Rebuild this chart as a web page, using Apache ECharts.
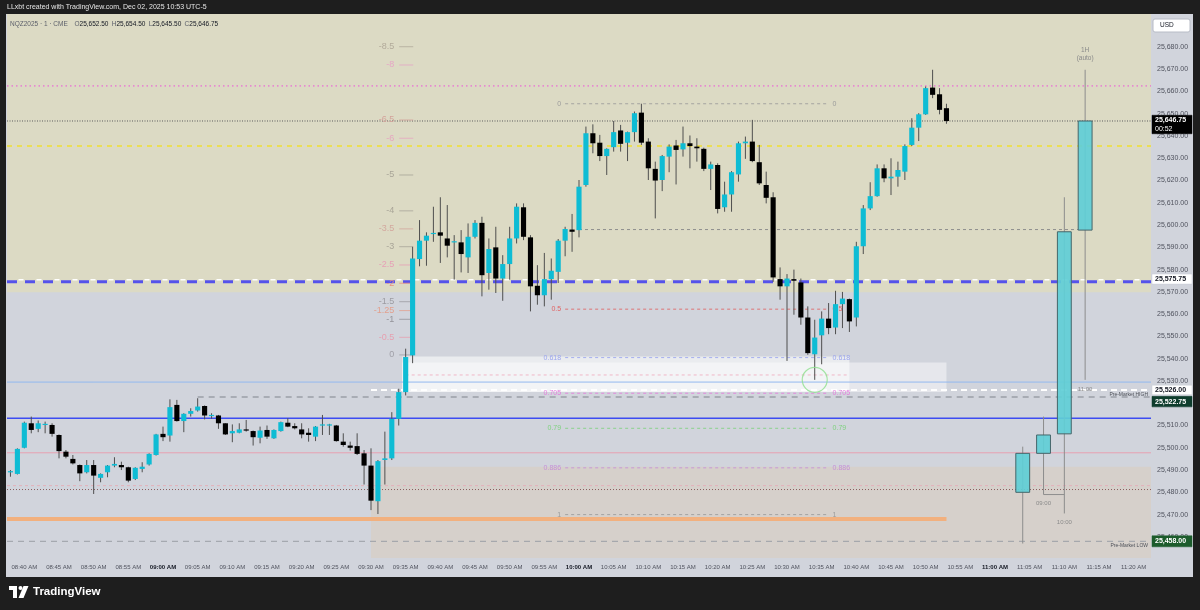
<!DOCTYPE html>
<html><head><meta charset="utf-8">
<script src="https://cdn.jsdelivr.net/npm/echarts@6/dist/echarts.min.js"></script>
<style>html,body{margin:0;padding:0;background:#1e1e1e;}#c{width:1200px;height:610px;}</style>
</head><body><div id="c"></div>
<script>
// ---------------- DATA ----------------
const FIRST_BAR = '08:38';
const LAST_SLOT = '11:22';
const TIME_TICKS = ['08:40 AM','08:45 AM','08:50 AM','08:55 AM','09:00 AM','09:05 AM','09:10 AM','09:15 AM','09:20 AM','09:25 AM','09:30 AM','09:35 AM','09:40 AM','09:45 AM','09:50 AM','09:55 AM','10:00 AM','10:05 AM','10:10 AM','10:15 AM','10:20 AM','10:25 AM','10:30 AM','10:35 AM','10:40 AM','10:45 AM','10:50 AM','10:55 AM','11:00 AM','11:05 AM','11:10 AM','11:15 AM','11:20 AM'];
const PRICE_TICKS = [25460,25470,25480,25490,25500,25510,25520,25530,25540,25550,25560,25570,25580,25590,25600,25610,25620,25630,25640,25650,25660,25670,25680];
const PRICE_MIN = 25450.5, PRICE_MAX = 25694.8;

// 1-minute bars from 08:38, rows are [open, high, low, close]
const OHLC_1M = [
[25489.0,25490.0,25487.0,25489.5],
[25488.25,25499.75,25488.0,25499.5],
[25500.0,25511.75,25499.75,25511.25],
[25511.0,25514.0,25506.5,25508.0],
[25508.5,25512.25,25507.0,25511.0],
[25510.5,25511.75,25506.5,25510.75],
[25510.25,25511.0,25505.0,25506.25],
[25505.75,25506.0,25495.25,25498.5],
[25498.25,25499.0,25495.25,25496.0],
[25495.0,25496.75,25492.5,25493.0],
[25492.25,25492.5,25485.0,25488.5],
[25489.0,25494.5,25488.5,25492.25],
[25492.25,25494.5,25479.25,25487.5],
[25486.5,25488.5,25484.5,25488.25],
[25489.0,25492.25,25486.75,25492.0],
[25492.0,25495.75,25491.25,25492.75],
[25492.25,25493.75,25490.0,25491.25],
[25491.25,25491.5,25484.5,25485.25],
[25486.0,25491.25,25485.5,25491.0],
[25490.5,25493.5,25489.0,25491.5],
[25492.5,25497.5,25492.0,25497.25],
[25496.75,25506.25,25496.5,25506.0],
[25506.25,25509.5,25503.0,25504.75],
[25505.5,25521.75,25502.75,25518.25],
[25519.25,25521.5,25511.75,25512.0],
[25512.0,25515.5,25507.0,25515.25],
[25515.25,25517.75,25514.0,25516.5],
[25516.75,25522.25,25516.25,25518.5],
[25518.75,25519.0,25512.75,25514.5],
[25514.5,25515.5,25513.0,25514.75],
[25514.5,25514.75,25508.5,25511.0],
[25511.0,25511.0,25505.75,25506.0],
[25506.5,25510.5,25502.5,25507.5],
[25506.75,25511.0,25506.5,25508.25],
[25508.25,25512.5,25507.25,25508.0],
[25507.5,25507.75,25501.0,25504.75],
[25504.5,25509.5,25502.0,25507.75],
[25508.0,25510.0,25504.0,25505.0],
[25504.25,25508.25,25504.0,25508.0],
[25507.5,25511.75,25507.25,25511.5],
[25511.25,25513.25,25509.25,25509.5],
[25509.75,25511.0,25508.25,25508.75],
[25508.25,25511.0,25504.25,25506.0],
[25506.75,25508.75,25502.75,25505.75],
[25505.0,25509.75,25503.0,25509.5],
[25510.25,25514.75,25505.75,25510.5],
[25510.0,25510.75,25505.75,25510.5],
[25510.0,25510.25,25502.75,25503.0],
[25502.75,25506.5,25500.5,25501.25],
[25501.0,25502.75,25498.75,25500.0],
[25500.75,25506.5,25496.75,25497.25],
[25497.5,25499.0,25483.5,25492.0],
[25492.0,25499.75,25472.0,25476.25],
[25476.0,25494.5,25470.25,25494.0],
[25494.5,25507.25,25483.5,25495.25],
[25495.25,25516.0,25494.5,25513.0],
[25513.0,25526.5,25510.0,25525.0],
[25525.0,25544.5,25523.5,25540.75],
[25541.5,25590.25,25538.0,25585.0],
[25584.75,25602.25,25581.5,25593.0],
[25593.0,25596.75,25581.75,25595.25],
[25596.0,25608.25,25592.5,25596.5],
[25596.75,25612.5,25583.0,25595.25],
[25594.0,25609.0,25585.5,25590.75],
[25592.25,25595.5,25575.5,25592.75],
[25592.25,25597.75,25578.75,25587.0],
[25585.5,25600.75,25578.5,25594.75],
[25594.75,25602.25,25594.0,25601.0],
[25601.0,25603.75,25568.0,25577.5],
[25578.5,25594.0,25571.0,25589.25],
[25590.0,25599.25,25569.5,25576.0],
[25576.0,25586.5,25566.0,25582.5],
[25582.5,25599.25,25575.5,25594.0],
[25594.0,25609.75,25591.75,25608.25],
[25608.0,25609.75,25593.25,25594.75],
[25594.5,25595.5,25561.25,25572.5],
[25572.75,25582.0,25564.25,25568.5],
[25568.5,25587.5,25563.5,25575.75],
[25575.75,25585.0,25566.5,25579.5],
[25579.0,25593.75,25574.0,25593.0],
[25593.0,25599.25,25586.0,25598.25],
[25598.0,25605.0,25588.0,25597.0],
[25597.75,25620.25,25594.5,25617.25],
[25618.0,25644.25,25617.25,25641.25],
[25641.25,25645.25,25632.25,25636.75],
[25637.0,25640.5,25628.75,25631.0],
[25631.0,25634.5,25622.5,25634.25],
[25635.0,25646.75,25633.0,25641.75],
[25642.5,25645.0,25633.0,25636.5],
[25637.0,25642.0,25628.75,25641.75],
[25641.75,25651.0,25637.5,25650.25],
[25650.5,25654.5,25636.0,25637.0],
[25637.5,25639.0,25620.25,25625.5],
[25625.25,25628.5,25603.0,25620.0],
[25620.25,25631.5,25615.25,25631.0],
[25630.75,25636.25,25623.75,25635.25],
[25635.75,25638.25,25618.25,25633.75],
[25634.0,25644.25,25630.75,25636.75],
[25636.75,25640.25,25625.5,25635.5],
[25635.25,25639.0,25628.5,25634.5],
[25634.25,25634.75,25624.25,25625.25],
[25625.25,25628.5,25615.75,25627.25],
[25627.0,25627.75,25605.25,25607.25],
[25608.0,25619.5,25606.0,25613.75],
[25613.75,25624.25,25606.0,25623.75],
[25622.75,25637.5,25619.5,25636.75],
[25636.75,25639.75,25629.75,25637.5],
[25637.5,25647.25,25628.25,25628.75],
[25628.25,25636.0,25618.0,25618.75],
[25618.0,25624.0,25609.75,25612.25],
[25612.5,25614.75,25574.5,25576.5],
[25575.75,25581.0,25566.5,25572.5],
[25572.5,25578.0,25539.0,25576.0],
[25575.75,25580.0,25559.75,25575.0],
[25574.25,25576.0,25555.25,25558.5],
[25558.5,25563.5,25541.75,25542.5],
[25542.0,25557.5,25530.5,25549.5],
[25550.5,25561.25,25537.5,25558.0],
[25558.0,25565.0,25551.0,25553.75],
[25554.0,25570.5,25551.0,25564.5],
[25564.5,25570.0,25553.75,25567.0],
[25566.75,25567.0,25552.0,25556.75],
[25558.5,25592.5,25554.5,25590.5],
[25590.5,25609.0,25587.0,25607.5],
[25607.5,25619.25,25606.75,25613.0],
[25613.0,25627.25,25612.75,25625.5],
[25625.5,25627.25,25619.25,25621.0],
[25621.0,25630.0,25613.5,25621.75],
[25621.75,25628.5,25617.25,25624.75],
[25624.0,25636.25,25620.25,25635.5],
[25636.0,25648.0,25635.5,25643.75],
[25643.75,25650.25,25637.75,25649.75],
[25649.75,25662.25,25649.5,25661.5],
[25661.75,25669.75,25657.0,25658.5],
[25658.75,25661.5,25649.75,25651.75],
[25652.5,25654.5,25645.5,25646.75]
];

// higher-timeframe (1H) overlay candles
const HTF_SLOTS = ['11:04','11:07','11:10','11:13'];
const HTF_OHLC = [
[25480.0,25500.5,25457.0,25497.5],
[25497.5,25514.0,25479.0,25505.75],
[25506.25,25612.5,25470.5,25597.0],
[25597.75,25669.75,25530.5,25646.75]
];
const HTF_LABELS = ['','09:00','10:00','11:00'];
const HTF_TITLE = ['1H','(auto)'];

// horizontal levels
const LEVEL_PRICES = [25662.5,25646.75,25635.5,25598.0,25574.6,25575.5,25532.7,25529.5,25526.0,25522.75,25513.25,25497.75,25483.0,25481.25,25468.0,25458.0,25479.0];
const LEVEL_FROM   = ['start','start','start','10:00','start','start','09:35','start','09:30','09:05','start','start','start','start','start','start','11:07'];
const LEVEL_TO     = ['end','end','end','11:12','end','end','10:39','end','end','end','end','end','end','end','10:53','end','11:10'];
const LEVEL_TEXT   = ['','','','','','','','','Pre-Market HIGH','','','','','','','Pre-Market LOW',''];

// zones [from, to, low, high]
const ZONE_FROM = ['start','09:30','09:34','09:34'];
const ZONE_TO   = ['end','end','10:39','10:53'];
const ZONE_LOW  = [25569.8,25450.5,25525.0,25525.0];
const ZONE_HIGH = [25694.8,25491.5,25541.0,25538.3];

// fib retracement
const FIB_FROM = '09:58', FIB_TO = '10:36';
const FIB_LABELS = ['0','0.5','0.618','0.705','0.79','0.886','1'];
const FIB_PRICES = [25654.5,25562.25,25540.5,25524.5,25508.75,25491.0,25470.0];

// std-dev projection labels
const STD_AT = '09:34';
const STD_LABELS = ['-8.5','-8','-6.5','-6','-5','-4','-3.5','-3','-2.5','-2','-1.5','-1.25','-1','-0.5','0'];
const STD_PRICES = [25680.1,25671.9,25647.2,25639.0,25622.5,25606.4,25598.3,25590.3,25582.1,25573.9,25565.6,25561.6,25557.7,25549.6,25541.7];

const CIRCLE_AT = ['10:34', 25530.5];
const TAG_PRICES = [25646.75,25575.75,25526.0,25522.75,25458.0];
const TAG_SUB = ['00:52','','','',''];

// ---------------- STYLE / HELPERS ----------------
const FONT = '"Liberation Sans", Arial, sans-serif';
function mins(t){const p=t.split(':').map(Number);return p[0]*60+p[1];}
const X_MIN = -0.5, X_MAX = mins(LAST_SLOT)-mins(FIRST_BAR)+0.5;
function xi(t){ if(t==='start') return X_MIN; if(t==='end') return X_MAX; return mins(t)-mins(FIRST_BAR); }
function tickIdx(lbl){ return xi(lbl.slice(0,5)); }
function fmtPrice(v){ const s=v.toFixed(2); const [a,b]=s.split('.'); return a.replace(/\B(?=(\d{3})+(?!\d))/g,',')+'.'+b; }

const LEVEL_STYLE = [
 {c:'#e68ad0',w:1.6,d:[1.5,3]},
 {c:'#5c5c5c',w:1,d:[1,1.5]},
 {c:'#f0e030',w:1.6,d:[5,5]},
 {c:'#8e8e8e',w:1,d:[3,3]},
 {c:'#5552ea',w:3,d:[10,8]},
 {c:'#ffffff',w:1.5,d:[5,13],o:-11.5},
 {c:'#f0b8c8',w:1,d:[3,3]},
 {c:'#93b9ef',w:1,d:null},
 {c:'#ffffff',w:2,d:[6,4]},
 {c:'#9a9ea6',w:1.5,d:[6,5]},
 {c:'#3d4cf2',w:1.5,d:null},
 {c:'#e7a0b2',w:1,d:null},
 {c:'#e3b0ba',w:1,d:[3,3]},
 {c:'#8a5e5e',w:1,d:[1,2]},
 {c:'#f2b07e',w:4,d:null},
 {c:'#9a9ea6',w:1,d:[6,5]},
 {c:'#8e8e8e',w:1,d:null}
];
const ZONE_FILL = ['#dcdac4','#d6d0cb','rgba(255,255,255,0.55)','rgba(255,255,255,0.45)'];
const FIB_COLORS = ['#9b9b9b','#e06464','#9aa4ee','#e47cdc','#7fd27f','#c690d8','#9b9b9b'];
const STD_COLORS = {'-8.5':'#b2aa9a','-8':'#e6a6c6','-6.5':'#d3a29a','-6':'#e6a6c0','-5':'#a9a598','-4':'#a9a598','-3.5':'#d3a89e','-3':'#a9a598','-2.5':'#e6a0b6','-2':'#e88f7e','-1.5':'#9c9ca2','-1.25':'#e2a08e','-1':'#94949a','-0.5':'#e6a0b0','0':'#a0a0a8'};

function txt(text,x,y,fill,font,align,valign){
  return {type:'text',x:x,y:y,style:{text:text,fill:fill,font:font,align:align||'left',verticalAlign:valign||'middle',textAlign:align||'left',textVerticalAlign:valign||'middle'}};
}

// ---------------- SERIES DATA ----------------
const candleData = OHLC_1M.map((r,i)=>[i,r[0],r[3],r[2],r[1]]);
const htfData = HTF_OHLC.map((r,i)=>[xi(HTF_SLOTS[i]),r[0],r[3],r[2],r[1]]);
const levelData = LEVEL_PRICES.map((p,i)=>[xi(LEVEL_FROM[i]),xi(LEVEL_TO[i]),p]);
const zoneData = ZONE_LOW.map((l,i)=>[xi(ZONE_FROM[i])+(ZONE_FROM[i]==='09:34'?0.5:0),xi(ZONE_TO[i]),l,ZONE_HIGH[i]]);
const fibData = FIB_PRICES.map(p=>[xi(FIB_FROM),xi(FIB_TO),p]);
const stdData = STD_PRICES.map(p=>[xi(STD_AT),p]);

function renderZone(params,api){
  const a=api.coord([api.value(0),api.value(3)]), b=api.coord([api.value(1),api.value(2)]);
  return {type:'rect',shape:{x:a[0],y:a[1],width:b[0]-a[0],height:b[1]-a[1]},style:{fill:ZONE_FILL[params.dataIndex]}};
}
function renderLevel(params,api){
  const i=params.dataIndex, s=LEVEL_STYLE[i];
  const a=api.coord([api.value(0),api.value(2)]), b=api.coord([api.value(1),api.value(2)]);
  const ch=[{type:'line',shape:{x1:a[0],y1:a[1],x2:b[0],y2:b[1]},style:{stroke:s.c,lineWidth:s.w,lineDash:s.d||null,lineDashOffset:s.o||0}}];
  if(LEVEL_TEXT[i]) ch.push(txt(LEVEL_TEXT[i],b[0]-3,a[1]+4.5,'#4d5058','5px '+FONT,'right','middle'));
  return {type:'group',children:ch};
}
function renderFib(params,api){
  const i=params.dataIndex, c=FIB_COLORS[i];
  const a=api.coord([api.value(0),api.value(2)]), b=api.coord([api.value(1),api.value(2)]);
  return {type:'group',children:[
    {type:'line',shape:{x1:a[0],y1:a[1],x2:b[0],y2:b[1]},style:{stroke:c,lineWidth:1,lineDash:[3,3],opacity:0.85}},
    txt(FIB_LABELS[i],a[0]-4,a[1],c,'7px '+FONT,'right'),
    txt(FIB_LABELS[i],b[0]+4,b[1],c,'7px '+FONT,'left')
  ]};
}
function renderStd(params,api){
  const i=params.dataIndex, c=STD_COLORS[STD_LABELS[i]];
  const p=api.coord([api.value(0),api.value(1)]);
  return {type:'group',children:[
    txt(STD_LABELS[i],p[0]-4.5,p[1],c,'9px '+FONT,'right'),
    {type:'line',shape:{x1:p[0]+0.5,y1:p[1],x2:p[0]+14.5,y2:p[1]},style:{stroke:c,lineWidth:1,opacity:0.8}}
  ]};
}
function renderCandle(params,api){
  const x=api.value(0),o=api.value(1),c=api.value(2),l=api.value(3),h=api.value(4);
  const pO=api.coord([x,o]),pC=api.coord([x,c]),pL=api.coord([x,l]),pH=api.coord([x,h]);
  const w=api.size([1,0])[0]*0.74;
  const up=c>=o;
  const top=Math.min(pO[1],pC[1]); const bh=Math.max(Math.abs(pO[1]-pC[1]),1.2);
  return {type:'group',children:[
    {type:'line',shape:{x1:pH[0],y1:pH[1],x2:pL[0],y2:pL[1]},style:{stroke:'#4f4f4f',lineWidth:1}},
    {type:'rect',shape:{x:pO[0]-w/2,y:top,width:w,height:bh},style:{fill:up?'#0ebcd4':'#000000'}}
  ]};
}
function renderHTF(params,api){
  const i=params.dataIndex;
  const x=api.value(0),o=api.value(1),c=api.value(2),l=api.value(3),h=api.value(4);
  const pO=api.coord([x,o]),pC=api.coord([x,c]),pL=api.coord([x,l]),pH=api.coord([x,h]);
  const w=api.size([2,0])[0];
  const top=Math.min(pO[1],pC[1]); const bh=Math.abs(pO[1]-pC[1]);
  const ch=[
    {type:'line',shape:{x1:pH[0],y1:pH[1],x2:pL[0],y2:pL[1]},style:{stroke:'#8c8c8c',lineWidth:1}},
    {type:'rect',shape:{x:pO[0]-w/2,y:top,width:w,height:bh},style:{fill:'rgba(96,206,214,0.92)',stroke:'#45666a',lineWidth:1}}
  ];
  if(HTF_LABELS[i]) ch.push(txt(HTF_LABELS[i],pL[0],pL[1]+9,'#8a8a8a','6px '+FONT,'center'));
  if(i===HTF_OHLC.length-1){
    ch.push(txt(HTF_TITLE[0],pH[0],pH[1]-20,'#8a8a8a','6.5px '+FONT,'center'));
    ch.push(txt(HTF_TITLE[1],pH[0],pH[1]-12,'#8a8a8a','6.5px '+FONT,'center'));
  }
  return {type:'group',children:ch};
}

const tickSet = {}; TIME_TICKS.forEach(t=>{tickSet[tickIdx(t)]=t;});

const chart = echarts.init(document.getElementById('c'),null,{renderer:'canvas',width:1200,height:610});
const option = {
  animation:false,
  backgroundColor:'#1e1e1e',
  grid:{left:7,right:49,top:14,bottom:52,containLabel:false,outerBoundsMode:'none'},
  xAxis:{type:'value',min:X_MIN,max:X_MAX,axisLine:{show:false},axisTick:{show:false},splitLine:{show:false},
    axisLabel:{customValues:TIME_TICKS.map(tickIdx),margin:6,hideOverlap:false,
      formatter:function(v){const t=tickSet[Math.round(v)]||'';return t.indexOf(':00')===2?'{b|'+t+'}':'{n|'+t+'}';},
      rich:{n:{fontSize:6,color:'#50535e',fontFamily:FONT},b:{fontSize:6,color:'#131722',fontWeight:'bold',fontFamily:FONT}}}},
  yAxis:{type:'value',position:'right',min:PRICE_MIN,max:PRICE_MAX,axisLine:{show:false},axisTick:{show:false},splitLine:{show:false},
    axisLabel:{customValues:PRICE_TICKS,margin:6,align:'left',hideOverlap:false,fontSize:7,color:'#50535e',fontFamily:FONT,formatter:fmtPrice}},
  graphic:[
    {type:'rect',z:-10,shape:{x:6,y:14,width:1187,height:563},style:{fill:'#d1d4dc'}},
    {type:'text',z:50,style:{text:'LLxbt created with TradingView.com, Dec 02, 2025 10:53 UTC-5',x:7,y:7,fill:'#e6e6e6',font:'7px '+FONT,textVerticalAlign:'middle',verticalAlign:'middle'}},
    {type:'rect',z:50,shape:{x:1153,y:19,width:37,height:13,r:2},style:{fill:'#ffffff',stroke:'#b8bcc6',lineWidth:1}},
    {type:'text',z:51,style:{text:'USD',x:1160,y:25.5,fill:'#131722',font:'6.5px '+FONT,textVerticalAlign:'middle',verticalAlign:'middle'}},
    {type:'group',z:50,children:[
      {type:'rect',shape:{x:9,y:586,width:8,height:4},style:{fill:'#ffffff'}},
      {type:'rect',shape:{x:13,y:586,width:4,height:12},style:{fill:'#ffffff'}},
      {type:'circle',shape:{cx:20.5,cy:588,r:2},style:{fill:'#ffffff'}},
      {type:'polygon',shape:{points:[[18.5,598],[23.5,586],[28.5,586],[23.5,598]]},style:{fill:'#ffffff'}}
    ]},
    {type:'text',z:50,style:{text:'TradingView',x:33,y:592,fill:'#ffffff',font:'bold 11.5px '+FONT,textVerticalAlign:'middle',verticalAlign:'middle'}}
  ],
  series:[
    {type:'custom',name:'zones',z:1,clip:true,renderItem:renderZone,data:zoneData,silent:true},
    {type:'custom',name:'levels',z:2,clip:true,renderItem:renderLevel,data:levelData,silent:true},
    {type:'custom',name:'fib',z:3,clip:true,renderItem:renderFib,data:fibData,silent:true},
    {type:'custom',name:'std',z:3,clip:false,renderItem:renderStd,data:stdData,silent:true},
    {type:'custom',name:'htf',z:4,clip:false,renderItem:renderHTF,data:htfData,silent:true},
    {type:'custom',name:'NQZ2025',z:5,clip:true,renderItem:renderCandle,data:candleData,silent:true},
    {type:'scatter',name:'mark',z:6,data:[[xi(CIRCLE_AT[0]),CIRCLE_AT[1]]],symbol:'circle',symbolSize:25,
      itemStyle:{color:'rgba(0,0,0,0)',borderColor:'#8fe08f',borderWidth:1.2},silent:true}
  ]
};
chart.setOption(option);

// legend (OHLC of last bar)
const last = OHLC_1M[OHLC_1M.length-1];
const extra = [{type:'text',z:50,style:{
  text:'{s|NQZ2025 · 1 · CME}  {k|O}{v|'+fmtPrice(last[0])+'} {k|H}{v|'+fmtPrice(last[1])+'} {k|L}{v|'+fmtPrice(last[2])+'} {k|C}{v|'+fmtPrice(last[3])+'}',
  x:10,y:24,verticalAlign:'middle',textVerticalAlign:'middle',
  rich:{s:{fill:'#5d606b',font:'6.5px '+FONT},k:{fill:'#5d606b',font:'6.5px '+FONT},v:{fill:'#131722',font:'6.5px '+FONT}}}}];

// price tags on the right scale
const TAG_STYLE = [
  {bg:'#000000',fg:'#ffffff',dy:3.5,h:18.5},
  {bg:'#ffffff',fg:'#131722',dy:0,h:10},
  {bg:'#ffffff',fg:'#131722',dy:0,h:9.5},
  {bg:'#0e3d2d',fg:'#ffffff',dy:4.5,h:10.5},
  {bg:'#1c5c2c',fg:'#ffffff',dy:0,h:11}
];
TAG_PRICES.forEach((p,i)=>{
  const y = chart.convertToPixel({yAxisIndex:0},p);
  const s = TAG_STYLE[i];
  const cy = y + s.dy;
  extra.push({type:'rect',z:60,shape:{x:1152,y:cy-s.h/2,width:40,height:s.h},style:{fill:s.bg,stroke:s.bg==='#ffffff'?'#c8ccd4':s.bg,lineWidth:0.5}});
  if(TAG_SUB[i]){
    extra.push({type:'text',z:61,style:{text:fmtPrice(p),x:1155,y:cy-4,fill:s.fg,font:'bold 7px '+FONT,verticalAlign:'middle',textVerticalAlign:'middle'}});
    extra.push({type:'text',z:61,style:{text:TAG_SUB[i],x:1155,y:cy+4.5,fill:s.fg,font:'7px '+FONT,verticalAlign:'middle',textVerticalAlign:'middle'}});
  } else {
    extra.push({type:'text',z:61,style:{text:fmtPrice(p),x:1155,y:cy,fill:s.fg,font:'bold 7px '+FONT,verticalAlign:'middle',textVerticalAlign:'middle'}});
  }
});
chart.setOption({graphic:option.graphic.concat(extra)});
</script></body></html>
